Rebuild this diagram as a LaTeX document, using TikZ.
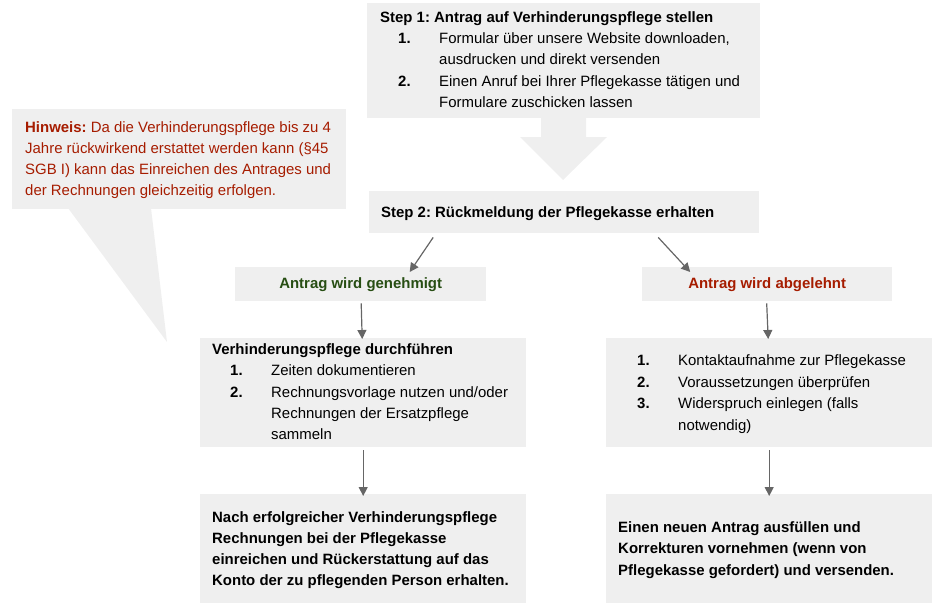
\documentclass[tikz,border=0pt]{standalone}
\usepackage{fontspec}
\setmainfont{Liberation Sans}
\usetikzlibrary{arrows.meta,calc}
\definecolor{boxgray}{HTML}{EFEFEF}
\definecolor{arrgray}{HTML}{666666}
\definecolor{okgreen}{HTML}{274E13}
\definecolor{nored}{HTML}{A61C00}
\frenchspacing
\begin{document}
\begin{tikzpicture}[x=1pt,y=-1pt,
  box/.style={fill=boxgray, draw=none, inner sep=0pt, anchor=north west},
  txt/.style={anchor=base west, inner sep=0pt, font=\fontsize{14.95}{21}\selectfont},
  btxt/.style={txt, font=\fontsize{14.95}{21}\selectfont\bfseries},
  ctxt/.style={anchor=center, inner sep=0pt, font=\fontsize{14.95}{21}\selectfont\bfseries},
  arr/.style={draw=arrgray, line width=1.2pt, -{Triangle[length=9pt,width=9pt]}}]
\useasboundingbox (0,0) rectangle (940,606);

% ---------- boxes ----------
\node[box, minimum width=393pt, minimum height=115pt] (s1) at (367,3) {};
\node[box, minimum width=390pt, minimum height=42pt] (s2) at (369,191) {};
\node[box, minimum width=251pt, minimum height=34pt] (gen) at (235,267) {};
\node[box, minimum width=250pt, minimum height=34pt] (abg) at (642,267) {};
\node[box, minimum width=326pt, minimum height=109pt] (vp) at (200,338) {};
\node[box, minimum width=326pt, minimum height=109pt] (nach) at (200,494) {};
\node[box, minimum width=326pt, minimum height=109pt] (li) at (606,338) {};
\node[box, minimum width=326pt, minimum height=109pt] (neu) at (606,494) {};

% callout
\node[box, minimum width=334pt, minimum height=100pt] (hw) at (12,109) {};
\coordinate (tipL) at (68,208);
\coordinate (tipR) at (151,208);
\coordinate (tip) at (167,342);
\fill[boxgray] (tipL) -- (tip) -- (tipR) -- cycle;

% big arrow between step 1 and step 2
\fill[boxgray] (541,117) -- (586,117) -- (586,137) -- (607,137) -- (563,180)
  -- (520,137) -- (541,137) -- cycle;

% ---------- texts ----------
\node[btxt] (t1) at (380,22) {Step 1: Antrag auf Verhinderungspflege stellen};
\node[btxt] (t1n1) at (398,43) {1.};
\node[txt] (t1a) at (439,43) {Formular über unsere Website downloaden,};
\node[txt] (t1b) at (439,64) {ausdrucken und direkt versenden};
\node[btxt] (t1n2) at (398,86) {2.};
\node[txt] (t1c) at (439,86) {Einen Anruf bei Ihrer Pflegekasse tätigen und};
\node[txt] (t1d) at (439,107) {Formulare zuschicken lassen};

\node[txt, text=nored] (h1) at (25,132) {\textbf{Hinweis:} Da die Verhinderungspflege bis zu 4};
\node[txt, text=nored] (h2) at (25,153) {Jahre rückwirkend erstattet werden kann (§45};
\node[txt, text=nored] (h3) at (25,174) {SGB I) kann das Einreichen des Antrages und};
\node[txt, text=nored] (h4) at (25,195) {der Rechnungen gleichzeitig erfolgen.};

\node[btxt] (t2) at (381,217) {Step 2: Rückmeldung der Pflegekasse erhalten};

\node[ctxt, text=okgreen] (tg) at (gen.center) {Antrag wird genehmigt};
\node[ctxt, text=nored] (ta) at (abg.center) {Antrag wird abgelehnt};

\node[btxt] (v0) at (212,354) {Verhinderungspflege durchführen};
\node[btxt] (vn1) at (230,375) {1.};
\node[txt] (v1) at (271,375) {Zeiten dokumentieren};
\node[btxt] (vn2) at (230,397) {2.};
\node[txt] (v2) at (271,397) {Rechnungsvorlage nutzen und/oder};
\node[txt] (v3) at (271,418) {Rechnungen der Ersatzpflege};
\node[txt] (v4) at (271,439) {sammeln};

\node[btxt] (n1) at (212,522) {Nach erfolgreicher Verhinderungspflege};
\node[btxt] (n2) at (212,543) {Rechnungen bei der Pflegekasse};
\node[btxt] (n3) at (212,564) {einreichen und Rückerstattung auf das};
\node[btxt] (n4) at (212,585) {Konto der zu pflegenden Person erhalten.};

\node[btxt] (ln1) at (637,365) {1.};
\node[txt] (l1) at (678,365) {Kontaktaufnahme zur Pflegekasse};
\node[btxt] (ln2) at (637,387) {2.};
\node[txt] (l2) at (678,387) {Voraussetzungen überprüfen};
\node[btxt] (ln3) at (637,408) {3.};
\node[txt] (l3) at (678,408) {Widerspruch einlegen (falls};
\node[txt] (l4) at (678,430) {notwendig)};

\node[btxt] (e1) at (618,532) {Einen neuen Antrag ausfüllen und};
\node[btxt] (e2) at (618,553) {Korrekturen vornehmen (wenn von};
\node[btxt] (e3) at (618,575) {Pflegekasse gefordert) und versenden.};

% ---------- connectors ----------
\draw[arr] ([xshift=-131pt,yshift=-4pt]s2.south) -- ([xshift=49pt,yshift=-5pt]gen.north);
\draw[arr] ([xshift=94pt,yshift=-4pt]s2.south) -- ([xshift=-77pt,yshift=-5pt]abg.north);
\draw[arr] ([xshift=0.5pt,yshift=-2pt]gen.south) -- ([xshift=-1pt,yshift=-1pt]vp.north);
\draw[arr] ([xshift=-0.5pt,yshift=-2pt]abg.south) -- ([xshift=-1pt,yshift=-1pt]li.north);
\draw[arr] ([xshift=0pt,yshift=-3pt]vp.south) -- ([xshift=0pt,yshift=-2pt]nach.north);
\draw[arr] ([xshift=0pt,yshift=-3pt]li.south) -- ([xshift=0pt,yshift=-2pt]neu.north);
\end{tikzpicture}
\end{document}
